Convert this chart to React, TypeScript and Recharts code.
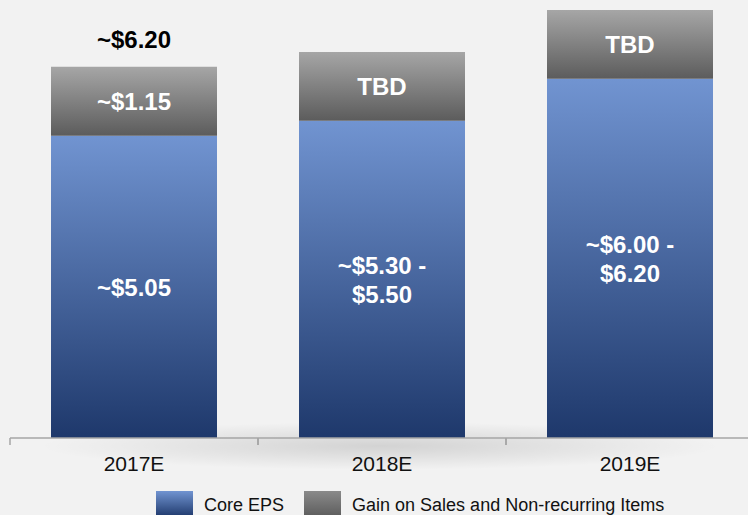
import React from 'react'
import { BarChart, Bar, XAxis, YAxis, LabelList, Customized } from 'recharts'

const years = ['2017E', '2018E', '2019E']
const coreEps = [5.05, 5.3, 6.0]
const gainItems = [1.15, 1.15, 1.15]
const coreLabels = ['~$5.05', '~$5.30 -\n$5.50', '~$6.00 -\n$6.20']
const gainLabels = ['~$1.15', 'TBD', 'TBD']
const totalLabels = ['~$6.20', '', '']
const seriesNames = ['Core EPS', 'Gain on Sales and Non-recurring Items']

const data = years.map((year, i) => ({
  year,
  core: coreEps[i],
  gain: gainItems[i],
  coreLabel: coreLabels[i],
  gainLabel: gainLabels[i],
  totalLabel: totalLabels[i],
}))

const FONT = '"Liberation Sans", Arial, sans-serif'

const CenterLabel = (props: any) => {
  const { x, y, width, height, value } = props
  if (!value) return null
  const lines = String(value).split('\n')
  const lh = 28.5
  const cx = x + width / 2
  const cy = y + height / 2 - ((lines.length - 1) * lh) / 2
  return (
    <text x={cx} y={cy} textAnchor="middle" dominantBaseline="central" fill="#fff" fontFamily={FONT} fontWeight="bold" fontSize={24}>
      {lines.map((l, i) => (
        <tspan key={i} x={cx} y={cy + i * lh}>{l}</tspan>
      ))}
    </text>
  )
}

const TopLabel = (props: any) => {
  const { x, y, width, value } = props
  if (!value) return null
  return (
    <text x={x + width / 2} y={y - 27} textAnchor="middle" dominantBaseline="central" fill="#000" fontFamily={FONT} fontWeight="bold" fontSize={24}>
      {value}
    </text>
  )
}

const YearTick = (props: any) => {
  const { x, y, payload } = props
  const half = 124
  return (
    <g>
      <line x1={x - half} y1={y} x2={x - half} y2={y + 7} stroke="#a6a6a6" strokeWidth={1.5} />
      <line x1={x + half} y1={y} x2={x + half} y2={y + 7} stroke="#a6a6a6" strokeWidth={1.5} />
      <text x={x} y={y + 33} textAnchor="middle" fill="#111" fontFamily={FONT} fontSize={21}>
        {payload.value}
      </text>
    </g>
  )
}

const AxisShadow = () => (
  <g>
    <defs>
      <radialGradient id="shadowGrad" cx="50%" cy="50%" r="50%">
        <stop offset="0%" stopColor="#000" stopOpacity={0.13} />
        <stop offset="100%" stopColor="#000" stopOpacity={0} />
      </radialGradient>
    </defs>
    <ellipse cx={380} cy={446} rx={340} ry={24} fill="url(#shadowGrad)" />
  </g>
)

export default function App() {
  return (
    <div style={{ position: 'fixed', left: 0, top: 0, width: 748, height: 515, overflow: 'hidden', background: '#f2f2f2' }}>
      <BarChart width={760} height={515} data={data} margin={{ top: 10, right: 6, left: 10, bottom: 0 }}>
        <defs>
          <linearGradient id="blueGrad" x1="0" y1="0" x2="0" y2="1">
            <stop offset="0%" stopColor="#7194d1" />
            <stop offset="100%" stopColor="#1e386b" />
          </linearGradient>
          <linearGradient id="grayGrad" x1="0" y1="0" x2="0" y2="1">
            <stop offset="0%" stopColor="#a6a6a6" />
            <stop offset="100%" stopColor="#5c5c5c" />
          </linearGradient>
        </defs>
        <Customized component={AxisShadow} />
        <XAxis dataKey="year" height={77} tickLine={false} tickSize={0} tickMargin={0} axisLine={{ stroke: '#a6a6a6', strokeWidth: 1.5 }} tick={<YearTick />} interval={0} />
        <YAxis hide domain={[0, 7.15]} />
        <Bar dataKey="core" stackId="a" barSize={166} fill="url(#blueGrad)" isAnimationActive={false}>
          <LabelList dataKey="coreLabel" content={<CenterLabel />} />
        </Bar>
        <Bar dataKey="gain" stackId="a" barSize={166} fill="url(#grayGrad)" isAnimationActive={false}>
          <LabelList dataKey="gainLabel" content={<CenterLabel />} />
          <LabelList dataKey="totalLabel" content={<TopLabel />} />
        </Bar>
      </BarChart>
      <div style={{ position: 'absolute', left: 156, top: 491, display: 'flex', alignItems: 'flex-start', fontFamily: FONT, fontSize: 18, color: '#111' }}>
        <div style={{ width: 37, height: 26, background: 'linear-gradient(#7194d1, #1e386b)' }} />
        <span style={{ marginLeft: 11, marginTop: 4, lineHeight: '20px' }}>{seriesNames[0]}</span>
        <div style={{ width: 37, height: 26, marginLeft: 20, background: 'linear-gradient(#8a8a8a, #5c5c5c)' }} />
        <span style={{ marginLeft: 11, marginTop: 4, lineHeight: '20px' }}>{seriesNames[1]}</span>
      </div>
    </div>
  )
}
